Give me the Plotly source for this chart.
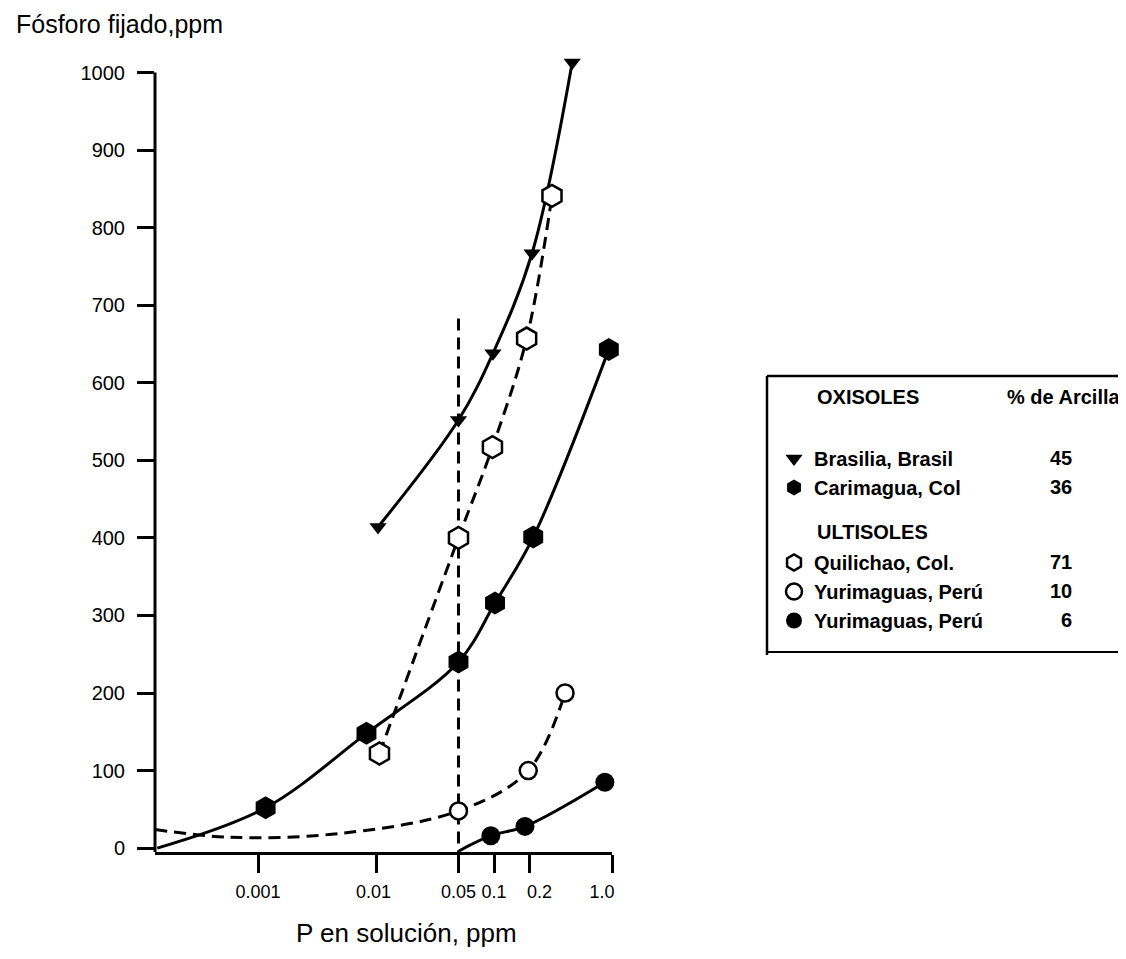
import plotly.graph_objects as go

# ---------------- data ----------------
# x: P en solución (ppm), y: Fósforo fijado (ppm)
brasilia_x = [0.0104, 0.05, 0.098, 0.21, 0.46]
brasilia_y = [414, 552, 638, 767, 1013]

carimagua_x = [0.00116, 0.0083, 0.05, 0.102, 0.215, 0.94]
carimagua_y = [52, 148, 240, 316, 401, 643]

quilichao_x = [0.0107, 0.05, 0.097, 0.189, 0.31]
quilichao_y = [122, 400, 517, 657, 841]

yuri10_x = [0.05, 0.195, 0.40]
yuri10_y = [48, 100, 200]

yuri6_x = [0.094, 0.183, 0.87]
yuri6_y = [16, 28, 85]

# extra points of the hand-drawn fitted curves (where curves extend past the data)
carimagua_curve_x = [0.00014]
carimagua_curve_y = [0]
yuri10_curve_x = [0.000134, 0.00058, 0.005]
yuri10_curve_y = [24, 14, 19]
yuri6_curve_x = [0.05]
yuri6_curve_y = [-4]

# vertical reference line at 0.05 ppm
ref_x = [0.05, 0.05]
ref_y = [683, -5]

x_tick_vals = [0.001, 0.01, 0.05, 0.1, 0.2, 1.0]
x_tick_text = ["0.001", "0.01", "0.05", "0.1", "0.2", "1.0"]
y_tick_vals = list(range(0, 1001, 100))

legend_names = ["Brasilia, Brasil", "Carimagua, Col", "Quilichao, Col.",
                "Yurimaguas, Perú", "Yurimaguas, Perú"]
clay_pct = ["45", "36", "71", "10", "6"]

# ---------------- layout geometry (page pixels; page body has an 8px margin) ----------------
OFF = 8
FW, FH = 1126 - OFF, 959 - OFF
L, R, T, B = 155, 612, 57, 852   # plot area in page pixels


def px(xp):
    return (xp - L) / (R - L)


def py(yp):
    return (B - yp) / (B - T)


AX_FONT = "Liberation Sans, Arial, sans-serif"
LEG_FONT = "Liberation Sans, Arial, sans-serif"
DASH = "12px,7px"
NB = "\u00a0"

# hand-set label placement of the original (labels are not centred on the ticks)
pad = {"0.01": (0, 1), "0.2": (4, 0), "1.0": (0, 4)}
x_tick_disp = [NB * pad.get(t, (0, 0))[0] + t + NB * pad.get(t, (0, 0))[1] for t in x_tick_text]

fig = go.Figure()

# reference vertical dashed line
fig.add_trace(go.Scatter(x=ref_x, y=ref_y, mode="lines", showlegend=False,
                         line=dict(color="black", width=3, dash=DASH), hoverinfo="skip"))

# curves
fig.add_trace(go.Scatter(x=brasilia_x, y=brasilia_y, mode="lines", showlegend=False,
                         line=dict(color="black", width=3, shape="spline")))
fig.add_trace(go.Scatter(x=carimagua_curve_x + carimagua_x, y=carimagua_curve_y + carimagua_y,
                         mode="lines", showlegend=False,
                         line=dict(color="black", width=3, shape="spline")))
fig.add_trace(go.Scatter(x=quilichao_x, y=quilichao_y, mode="lines", showlegend=False,
                         line=dict(color="black", width=3, dash=DASH, shape="spline")))
fig.add_trace(go.Scatter(x=yuri10_curve_x + yuri10_x, y=yuri10_curve_y + yuri10_y,
                         mode="lines", showlegend=False,
                         line=dict(color="black", width=3, dash=DASH, shape="spline")))
fig.add_trace(go.Scatter(x=yuri6_curve_x + yuri6_x, y=yuri6_curve_y + yuri6_y,
                         mode="lines", showlegend=False,
                         line=dict(color="black", width=3, shape="spline")))

# markers (these carry the legend entries)
fig.add_trace(go.Scatter(x=brasilia_x, y=brasilia_y, mode="markers", name=legend_names[0],
                         legendgroup="oxi", cliponaxis=False,
                         marker=dict(symbol="triangle-down", size=15, color="black")))
fig.add_trace(go.Scatter(x=carimagua_x, y=carimagua_y, mode="markers", name=legend_names[1],
                         legendgroup="oxi", cliponaxis=False,
                         marker=dict(symbol="hexagon", size=23, color="black")))
fig.add_trace(go.Scatter(x=quilichao_x, y=quilichao_y, mode="markers", name=legend_names[2],
                         legendgroup="ult",
                         marker=dict(symbol="hexagon", size=22, color="white",
                                     line=dict(color="black", width=2.5))))
fig.add_trace(go.Scatter(x=yuri10_x, y=yuri10_y, mode="markers", name=legend_names[3],
                         legendgroup="ult",
                         marker=dict(symbol="circle", size=17, color="white",
                                     line=dict(color="black", width=2.5))))
fig.add_trace(go.Scatter(x=yuri6_x, y=yuri6_y, mode="markers", name=legend_names[4],
                         legendgroup="ult", cliponaxis=False,
                         marker=dict(symbol="circle", size=19, color="black")))

# ---------------- axis line, legend box & texts ----------------
shapes = [
    # y axis line only up to the 1000 tick
    dict(type="line", xref="paper", yref="y", x0=0, x1=0, y0=-5, y1=1000,
         line=dict(color="black", width=3)),
    dict(type="line", xref="paper", yref="paper", x0=px(767), x1=px(767), y0=py(376), y1=py(655),
         line=dict(color="black", width=2.5)),
    dict(type="line", xref="paper", yref="paper", x0=px(767), x1=px(1126), y0=py(376), y1=py(376),
         line=dict(color="black", width=2.5)),
    dict(type="line", xref="paper", yref="paper", x0=px(767), x1=px(1126), y0=py(652), y1=py(652),
         line=dict(color="black", width=2)),
]

annotations = []


def ann(text, xp, yp, xanchor="left", size=20, bold=True, family=LEG_FONT):
    annotations.append(dict(text=(f"<b>{text}</b>" if bold else text), xref="paper", yref="paper",
                            x=px(xp), y=py(yp), xanchor=xanchor, yanchor="middle",
                            showarrow=False, font=dict(family=family, size=size, color="black")))


ann("OXISOLES", 815, 397)
ann("% de Arcilla", 1005, 397)
ann("ULTISOLES", 815, 532)
row_y = [458, 487, 562, 591, 620]
for val, yy in zip(clay_pct, row_y):
    ann(val, 1074, yy, xanchor="right")

ann("Fósforo fijado,ppm", 14, 24, size=25, bold=False, family=AX_FONT)
ann("P en solución, ppm", 406, 933, xanchor="center", size=26, bold=False, family=AX_FONT)

fig.update_layout(
    width=FW, height=FH, autosize=False,
    margin=dict(l=L - OFF, r=FW - (R - OFF), t=T - OFF, b=FH - (B - OFF), pad=0),
    paper_bgcolor="white", plot_bgcolor="white",
    font=dict(family=AX_FONT, color="black"),
    shapes=shapes, annotations=annotations,
    showlegend=True,
    legend=dict(xref="container", yref="container", x=(774 - OFF) / FW, y=1 - (439 - OFF) / FH,
                xanchor="left", yanchor="top", bgcolor="rgba(0,0,0,0)", borderwidth=0,
                font=dict(family=LEG_FONT, size=20, color="black", weight="bold"),
                tracegroupgap=46, traceorder="grouped", itemsizing="trace"),
    xaxis=dict(type="log", range=[-3.873, 0.0], tickvals=x_tick_vals, ticktext=x_tick_disp,
               tickangle=0,
               showline=True, linecolor="black", linewidth=3, showgrid=False, zeroline=False,
               ticks="outside", ticklen=18, tickwidth=2.5, tickcolor="black",
               ticklabelstandoff=3, tickfont=dict(size=18, family=AX_FONT)),
    yaxis=dict(range=[-5, 1020], tickvals=y_tick_vals,
               showline=False, showgrid=False, zeroline=False,
               ticks="outside", ticklen=17, tickwidth=2.5, tickcolor="black",
               ticklabelstandoff=8, tickfont=dict(size=20, family=AX_FONT)),
)

fig.write_html("out.html")
